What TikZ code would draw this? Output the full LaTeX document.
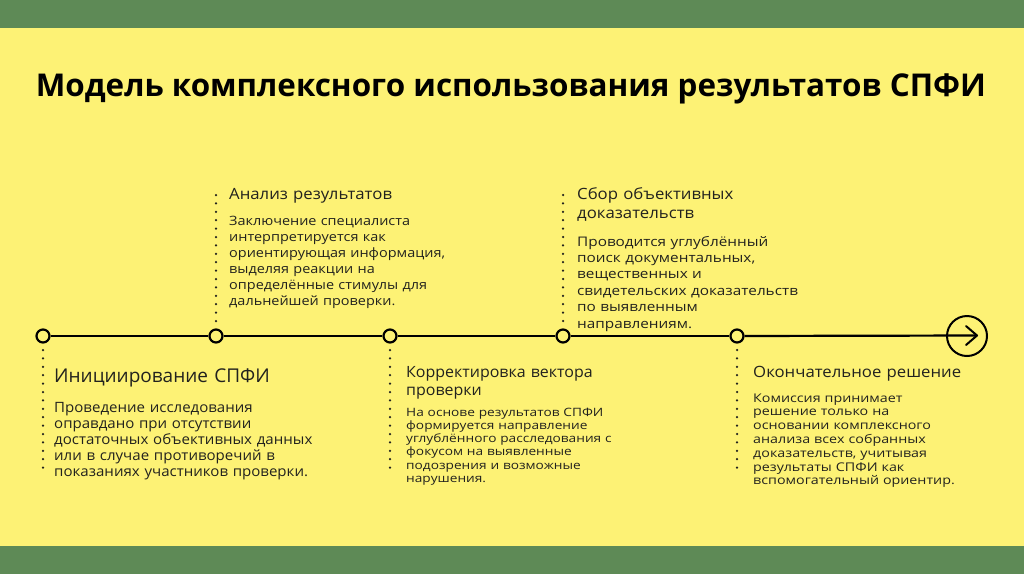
\documentclass[tikz,border=0pt]{standalone}
\usepackage{fontspec}
\setmainfont{Open Sans}
\newfontfamily\fsA{Open Sans}[FakeStretch=1.06]
\newfontfamily\fsB{Open Sans}[FakeStretch=1.12]
\newfontfamily\fsC{Open Sans}[FakeStretch=1.16]
\newfontfamily\fsD{Open Sans}[FakeStretch=1.19]
\newfontfamily\fsH{Open Sans}[FakeStretch=1.08]
\newfontfamily\fsG{Open Sans}[FakeStretch=1.03]
\definecolor{bgyellow}{RGB}{253,242,117}
\definecolor{bandgreen}{RGB}{94,138,86}
\definecolor{txt}{RGB}{34,34,30}
\tikzset{
  band/.style={fill=bandgreen, draw=none},
  tline/.style={line width=2.2pt, draw=black},
  stepdot/.style={circle, draw=black, line width=2.2pt, fill=bgyellow, minimum size=13pt, inner sep=0pt},
  enddot/.style={circle, draw=black, line width=2pt, fill=bgyellow, minimum size=40pt, inner sep=0pt},
  dotline/.style={draw=txt, line width=2.5pt, line cap=round, dash pattern=on 0pt off 8.4pt},
  txtbox/.style={anchor=base west, inner sep=0pt, align=left, text=txt, text width=280pt},
  headbig/.style={txtbox, font=\fontsize{19}{22}\selectfont},
  headmid/.style={txtbox, font=\fsH\fontsize{15.5}{19}\selectfont},
  headthree/.style={txtbox, font=\fsG\fontsize{15.5}{18}\selectfont},
  bodyone/.style={txtbox, font=\fsA\fontsize{14.2}{16}\selectfont},
  bodytwo/.style={txtbox, font=\fsB\fontsize{12.9}{16}\selectfont},
  bodyfour/.style={txtbox, font=\fsC\fontsize{13.2}{16.4}\selectfont},
  bodythree/.style={txtbox, font=\fsD\fontsize{11.5}{13.3}\selectfont},
  bodyfive/.style={txtbox, font=\fsD\fontsize{12}{13.8}\selectfont},
}
\begin{document}
\begin{tikzpicture}[x=1pt,y=-1pt]
\useasboundingbox (0,0) rectangle (1024,574);
\fill[bgyellow] (0,0) rectangle (1024,574);
\fill[band] (0,0) rectangle (1024,28);
\fill[band] (0,546) rectangle (1024,574);

\node[anchor=base, inner sep=0pt, text=black, font=\fontsize{31.4}{35}\selectfont\bfseries] (title) at (511,96) {Модель комплексного использования результатов СПФИ};

% timeline
\node[stepdot] (p1) at (43,336) {};
\node[stepdot] (p2) at (216,336) {};
\node[stepdot] (p3) at (390,336) {};
\node[stepdot] (p4) at (563,336) {};
\node[stepdot] (p5) at (737,336) {};
\node[enddot] (pe) at (967,336) {};
\coordinate (tip) at (977,335.5);
\coordinate (chA) at (966,326);
\coordinate (chB) at (966,345);
\draw[tline] (p1) -- (p2);
\draw[tline] (p2) -- (p3);
\draw[tline] (p3) -- (p4);
\draw[tline] (p4) -- (p5);
\draw[tline] (p5) -- (tip);
\draw[line width=2pt, line cap=round, line join=round] (chA) -- (tip) -- (chB);

% dotted leaders
\coordinate (d1a) at (43,350); \coordinate (d1b) at (43,468);
\coordinate (d2a) at (216,195); \coordinate (d2b) at (216,322);
\coordinate (d3a) at (390,350); \coordinate (d3b) at (390,468);
\coordinate (d4a) at (563,195); \coordinate (d4b) at (563,322);
\coordinate (d5a) at (737,350); \coordinate (d5b) at (737,468);
\draw[dotline] (d1a) -- (d1b);
\draw[dotline] (d2a) -- (d2b);
\draw[dotline] (d3a) -- (d3b);
\draw[dotline] (d4a) -- (d4b);
\draw[dotline] (d5a) -- (d5b);

% item 1
\node[headbig] (h1) at (54,382) {Инициирование СПФИ};
\node[bodyone] (b1) at (54,412) {Проведение исследования\\оправдано при отсутствии\\достаточных объективных данных\\или в случае противоречий в\\показаниях участников проверки.};

% item 2
\node[headmid] (h2) at (229,199) {Анализ результатов};
\node[bodytwo] (b2) at (229,225) {Заключение специалиста\\интерпретируется как\\ориентирующая информация,\\выделяя реакции на\\определённые стимулы для\\дальнейшей проверки.};

% item 3
\node[headthree] (h3) at (406,377) {Корректировка вектора\\проверки};
\node[bodythree] (b3) at (406,416) {На основе результатов СПФИ\\формируется направление\\углублённого расследования с\\фокусом на выявленные\\подозрения и возможные\\нарушения.};

% item 4
\node[headmid] (h4) at (577,199) {Сбор объективных\\доказательств};
\node[bodyfour] (b4) at (577,246) {Проводится углублённый\\поиск документальных,\\вещественных и\\свидетельских доказательств\\по выявленным\\направлениям.};

% item 5
\node[headmid] (h5) at (753,377) {Окончательное решение};
\node[bodyfive] (b5) at (753,402) {Комиссия принимает\\решение только на\\основании комплексного\\анализа всех собранных\\доказательств, учитывая\\результаты СПФИ как\\вспомогательный ориентир.};
\end{tikzpicture}
\end{document}
